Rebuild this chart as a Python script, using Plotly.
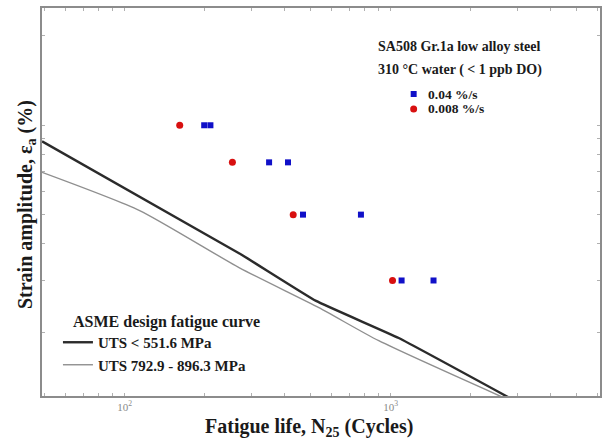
import plotly.graph_objects as go

# ---- data ----
n_004 = [199, 210, 349, 411, 468, 773, 1099, 1449]          # 0.04 %/s, cycles
ea_004 = [1.0, 1.0, 0.75, 0.75, 0.5, 0.5, 0.3, 0.3]          # strain amplitude %
n_0008 = [161, 254, 430, 1016]                               # 0.008 %/s
ea_0008 = [1.0, 0.75, 0.5, 0.3]

asme1_n = [48.9, 270, 524, 1072, 3289]                        # UTS < 551.6 MPa
asme1_ea = [0.883, 0.370, 0.256, 0.192, 0.1115]
asme2_n = [48.9, 113.8, 270, 537, 902, 3148]                  # UTS 792.9 - 896.3 MPa
asme2_ea = [0.694, 0.516, 0.331, 0.243, 0.188, 0.113]

x_major = [100, 1000]
x_major_text = ["10<sup>2</sup>", "10<sup>3</sup>"]
y_ticks = [0.2, 0.3, 0.4, 0.5, 0.6, 0.7, 0.8, 0.9, 1.0, 2.0]

FONT = "Liberation Serif"
TXT = "#1a1a1a"
BLUE = "#1010c8"
RED = "#d81010"

fig = go.Figure()
fig.add_trace(go.Scatter(x=asme1_n, y=asme1_ea, mode="lines", name="UTS < 551.6 MPa",
                         line=dict(color="#2b2b2b", width=2.4, shape="spline", smoothing=0.3),
                         legendgroup="a"))
fig.add_trace(go.Scatter(x=asme2_n, y=asme2_ea, mode="lines", name="UTS 792.9 - 896.3 MPa",
                         line=dict(color="#8f8f8f", width=1.4, shape="spline", smoothing=0.6),
                         legendgroup="b"))
fig.add_trace(go.Scatter(x=n_004, y=ea_004, mode="markers", name="0.04 %/s",
                         marker=dict(symbol="square", size=6, color=BLUE), showlegend=False))
fig.add_trace(go.Scatter(x=n_0008, y=ea_0008, mode="markers", name="0.008 %/s",
                         marker=dict(symbol="circle", size=7, color=RED), showlegend=False))

# minor tick positions (log decades)
minor = []
for d in [10, 100, 1000]:
    for k in range(1, 10):
        v = k * d
        if 48 <= v <= 6200:
            minor.append(v)

axis_line = dict(showline=True, linecolor="#8c8c8c", linewidth=1.5, mirror="ticks",
                 ticks="inside", tickcolor="#b0b0b0", ticklen=3, showgrid=False, zeroline=False)

fig.update_xaxes(type="log", range=[1.689, 3.787],
                 tickvals=minor,
                 ticktext=[x_major_text[x_major.index(v)] if v in x_major else "" for v in minor],
                 tickfont=dict(family=FONT, size=11, color="#8a8a8a"), **axis_line)
fig.update_yaxes(type="log", range=[-0.912, 0.395], showticklabels=False,
                 tickvals=y_ticks, **axis_line)

W, H = 605, 439
L, R, T, B = 42, 3, 8, 43
pw, ph = W - L - R, H - T - B

def px(x):
    return (x - L) / pw

def py(y):
    return (H - B - y) / ph

anns = [
    dict(text="<b>Fatigue life, N<sub>25</sub> (Cycles)</b>", x=px(310), y=py(427),
         font=dict(size=20)),
    dict(text="<b>Strain amplitude, ε<sub>a</sub> (%)</b>", x=px(26), y=py(205),
         textangle=-90, font=dict(size=20)),
    dict(text="<b>SA508 Gr.1a low alloy steel</b>", x=px(461), y=py(47), font=dict(size=14)),
    dict(text="<b>310 °C water ( < 1 ppb DO)</b>", x=px(461), y=py(70), font=dict(size=14)),
    dict(text="<b>ASME design fatigue curve</b>", x=px(71), y=py(322), xanchor="left",
         font=dict(size=16)),
    dict(text="<b>0.04 %/s</b>", x=px(427), y=py(94), xanchor="left", font=dict(size=13.5)),
    dict(text="<b>0.008 %/s</b>", x=px(427), y=py(109), xanchor="left", font=dict(size=13.5)),
]
for a in anns:
    a.update(xref="paper", yref="paper", showarrow=False, yanchor="middle")
    a.setdefault("xanchor", "center")
    a["font"].update(family=FONT, color=TXT)

# legend keys for the marker series
shapes = [
    dict(type="rect", x0=px(412), x1=px(418), y0=py(97), y1=py(91),
         fillcolor=BLUE, line=dict(width=0)),
    dict(type="circle", x0=px(411.5), x1=px(418.5), y0=py(112.5), y1=py(105.5),
         fillcolor=RED, line=dict(width=0)),
]
for s in shapes:
    s.update(xref="paper", yref="paper")

fig.update_layout(annotations=anns, shapes=shapes)

fig.update_layout(
    width=W, height=H,
    margin=dict(l=L, r=R, t=T, b=B),
    paper_bgcolor="white", plot_bgcolor="white",
    font=dict(family=FONT, color=TXT),
    showlegend=True,
    legend=dict(x=px(58), y=py(326), xanchor="left", yanchor="top",
                bgcolor="rgba(0,0,0,0)", tracegroupgap=0, traceorder="grouped",
                font=dict(family=FONT, size=15, color=TXT, weight="bold")),
)

fig.write_html("out.html")
